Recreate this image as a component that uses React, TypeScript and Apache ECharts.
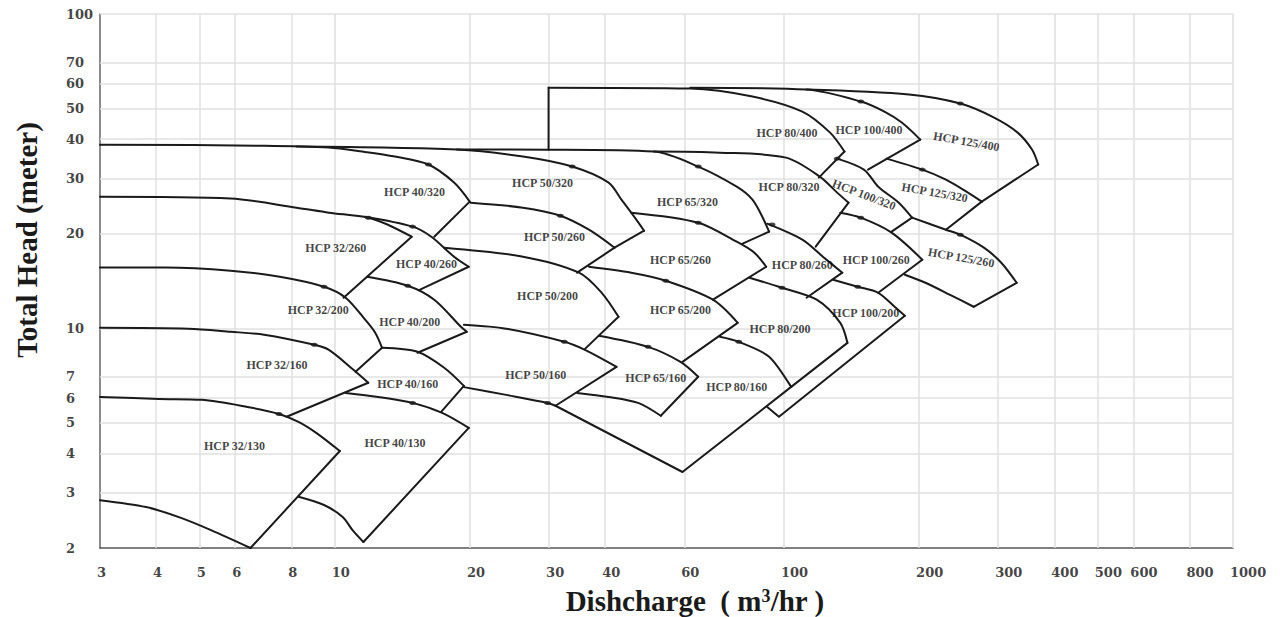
import React, { useEffect, useRef } from "react";
import * as echarts from "echarts";

type Pt = [number, number];
interface Pump {
  name: string;
  top: Pt[];
  edge: Pt[];
  bottom?: Pt[];
  extra?: Pt[];
  bep?: Pt[];
  label: Pt;
  rotate?: number;
}

// Axis tick values (gridlines + labels)
const xTicks = [3, 4, 5, 6, 8, 10, 20, 30, 40, 60, 100, 200, 300, 400, 500, 600, 800, 1000];
const yTicks = [2, 3, 4, 5, 6, 7, 10, 20, 30, 40, 50, 60, 70, 100];

// Pump fields: top = max impeller curve (ends at tip), edge = line from tip, bottom = min curve
const hcp32_130: Pump = {
  name: "HCP 32/130",
  top: [[3, 6.05], [4.06, 5.96], [5.05, 5.92], [6.39, 5.62], [7.51, 5.34], [8.3, 5.04], [9.09, 4.65], [10.26, 4.07]],
  edge: [[6.49, 2]],
  bottom: [[3, 2.84], [3.8, 2.7], [4.56, 2.49], [5.3, 2.28], [6.49, 2]],
  bep: [[7.51, 5.34]],
  label: [5.98, 4.23],
};
const hcp32_160: Pump = {
  name: "HCP 32/160",
  top: [[3, 10.04], [4.72, 9.97], [5.86, 9.75], [6.96, 9.54], [9.0, 8.86], [9.7, 8.54], [11.0, 7.38], [11.87, 6.71]],
  edge: [[7.81, 5.23]],
  bep: [[9.0, 8.86]],
  label: [7.43, 7.65],
};
const hcp32_200: Pump = {
  name: "HCP 32/200",
  top: [[3, 15.6], [4.2, 15.6], [5.86, 15.25], [7.54, 14.59], [9.46, 13.56], [10.57, 12.51], [11.69, 10.64], [12.3, 9.68], [12.74, 8.67]],
  edge: [[11.12, 7.27]],
  bep: [[9.46, 13.56]],
  label: [9.18, 11.46],
};
const hcp32_260: Pump = {
  name: "HCP 32/260",
  top: [[3, 26.2], [5.86, 25.86], [8.22, 24.2], [9.7, 23.33], [11.87, 22.49], [13.13, 21.36], [14.83, 19.56]],
  edge: [[10.46, 12.51]],
  bep: [[11.87, 22.49]],
  label: [10.05, 18.05],
};
const hcp40_130: Pump = {
  name: "HCP 40/130",
  top: [[10.57, 6.23], [12.49, 6.05], [14.9, 5.79], [17.34, 5.38], [19.87, 4.82]],
  edge: [[11.58, 2.09]],
  bottom: [[8.3, 2.91], [9.46, 2.74], [10.41, 2.51], [10.95, 2.28], [11.58, 2.09]],
  bep: [[14.9, 5.79]],
  label: [13.61, 4.32],
};
const hcp40_160: Pump = {
  name: "HCP 40/160",
  top: [[12.74, 8.67], [15.28, 8.42], [17.52, 7.49], [19.38, 6.56]],
  edge: [[17.25, 5.42]],
  label: [14.53, 6.66],
};
const hcp40_200: Pump = {
  name: "HCP 40/200",
  top: [[11.81, 14.59], [14.53, 13.66], [16.65, 12.33], [19.09, 10.11], [19.67, 9.75]],
  edge: [[15.28, 8.36]],
  bep: [[14.53, 13.66]],
  label: [14.68, 10.49],
};
const hcp40_260: Pump = {
  name: "HCP 40/260",
  top: [[11.69, 22.65], [14.9, 21.06], [16.4, 19.56], [18.43, 16.9], [19.87, 15.7]],
  edge: [[15.44, 13.26]],
  bep: [[14.9, 21.06]],
  label: [16.0, 16.05],
};
const hcp40_320: Pump = {
  name: "HCP 40/320",
  top: [[3, 38.4], [6.96, 38.1], [9.7, 37.6], [11.52, 36.5], [13.61, 35.2], [16.16, 33.2], [18.43, 29.08], [19.97, 25.3]],
  edge: [[16.65, 19.56]],
  bep: [[16.16, 33.2]],
  label: [15.05, 27.2],
};
const hcp50_160: Pump = {
  name: "HCP 50/160",
  top: [[19.38, 10.26], [24.07, 9.97], [32.43, 9.06], [36.06, 8.54], [42.39, 7.54]],
  edge: [[31.0, 5.67]],
  bottom: [[19.38, 6.5], [24.07, 6.14], [29.77, 5.79], [31.0, 5.67]],
  bep: [[32.43, 9.06], [29.77, 5.79]],
  label: [28.02, 7.11],
};
const hcp50_200: Pump = {
  name: "HCP 50/200",
  top: [[17.52, 18.05], [26.24, 16.9], [34.98, 15.03], [39.29, 12.97], [42.82, 10.88]],
  edge: [[36.06, 8.6]],
  label: [29.77, 12.69],
};
const hcp50_260: Pump = {
  name: "HCP 50/260",
  top: [[20.07, 25.1], [26.24, 24.2], [31.78, 22.81], [36.8, 20.59], [41.96, 18.05]],
  edge: [[34.63, 15.03]],
  bep: [[31.78, 22.81]],
  label: [30.83, 19.56],
};
const hcp50_320: Pump = {
  name: "HCP 50/320",
  top: [[8.22, 37.86], [18.7, 37.04], [26.24, 35.2], [33.77, 32.7], [40.7, 29.08], [43.47, 25.67], [46.4, 22.65], [48.83, 20.44]],
  edge: [[41.96, 18.05]],
  bep: [[33.77, 32.7]],
  label: [29.02, 29.08],
};
const hcp65_160: Pump = {
  name: "HCP 65/160",
  top: [[38.7, 9.47], [49.83, 8.73], [58.85, 7.82], [64.45, 7.01]],
  edge: [[53.19, 5.27]],
  bottom: [[34.63, 6.23], [40.7, 6.05], [47.36, 5.79], [53.19, 5.27]],
  bep: [[49.83, 8.73]],
  label: [51.86, 6.96],
};
const hcp65_200: Pump = {
  name: "HCP 65/200",
  top: [[36.8, 15.7], [45.72, 15.03], [54.56, 14.17], [69.5, 12.33], [78.9, 10.41]],
  edge: [[59.45, 7.82]],
  bep: [[54.56, 14.17]],
  label: [58.85, 11.46],
};
const hcp65_260: Pump = {
  name: "HCP 65/260",
  top: [[45.72, 23.33], [64.45, 21.68], [78.5, 18.86], [85.95, 17.4], [91.3, 15.7]],
  edge: [[69.5, 12.33]],
  bep: [[64.45, 21.68]],
  label: [58.85, 16.53],
};
const hcp65_320: Pump = {
  name: "HCP 65/320",
  top: [[18.7, 37.04], [29.92, 37.0], [51.33, 36.5], [64.45, 32.7], [78.5, 28.22], [85.1, 25.67], [89.5, 22.65], [92.7, 20.3]],
  edge: [[80.9, 18.59]],
  bep: [[64.45, 32.7]],
  label: [60.97, 25.3],
};
const hcp80_160: Pump = {
  name: "HCP 80/160",
  top: [[72.0, 9.4], [79.3, 9.06], [92.7, 8.12], [103.8, 6.51]],
  edge: [[59.45, 3.49], [31.0, 5.67]],
  bep: [[79.3, 9.06]],
  label: [78.5, 6.51],
};
const hcp80_200: Pump = {
  name: "HCP 80/200",
  top: [[83.8, 14.49], [99.0, 13.46], [118.3, 12.33], [133.5, 10.41], [138.5, 8.99]],
  edge: [[103.8, 6.51]],
  bep: [[99.0, 13.46]],
  label: [98.0, 9.97],
};
const hcp80_260: Pump = {
  name: "HCP 80/260",
  top: [[91.8, 21.52], [109.9, 19.14], [122.1, 16.9], [134.9, 15.03]],
  edge: [[112.3, 12.51]],
  bep: [[94.1, 21.4]],
  label: [109.9, 15.93],
};
const hcp80_320: Pump = {
  name: "HCP 80/320",
  top: [[51.33, 36.5], [72.0, 36.22], [101.1, 34.92], [120.2, 30.38], [131.4, 27.02], [139.3, 25.1]],
  edge: [[117.7, 18.18]],
  label: [102.7, 28.22],
};
const hcp80_400: Pump = {
  name: "HCP 80/400",
  top: [[29.92, 58.3], [61.9, 57.9], [85.1, 54.6], [109.9, 48.93], [126.7, 41.94], [136.4, 36.5]],
  edge: [[119.6, 30.16]],
  extra: [[29.92, 37.0], [29.92, 58.3]],
  label: [101.6, 41.94],
};
const hcp100_200: Pump = {
  name: "HCP 100/200",
  top: [[128.7, 14.27], [146.0, 13.56], [162.2, 12.97], [176.4, 11.71], [185.9, 10.96]],
  edge: [[97.5, 5.23], [91.8, 5.62]],
  bep: [[146.0, 13.56]],
  label: [152.2, 11.21],
};
const hcp100_260: Pump = {
  name: "HCP 100/260",
  top: [[133.5, 23.33], [148.3, 22.49], [173.7, 20.15], [203.3, 16.53]],
  edge: [[162.2, 12.97]],
  bep: [[148.3, 22.49]],
  label: [160.5, 16.53],
};
const hcp100_320: Pump = {
  name: "HCP 100/320",
  top: [[131.4, 34.66], [150.7, 31.98], [162.2, 28.22], [180.2, 25.1], [192.9, 22.49]],
  edge: [[173.7, 20.3]],
  bep: [[131.4, 34.66]],
  label: [150.7, 26.62],
  rotate: -21,
};
const hcp100_400: Pump = {
  name: "HCP 100/400",
  top: [[61.9, 58.3], [112.3, 57.48], [148.3, 52.66], [167.4, 48.93], [183.0, 45.14], [201.2, 39.85]],
  edge: [[153.9, 31.98]],
  bep: [[148.3, 52.66]],
  label: [154.7, 42.88],
};
const hcp125_260: Pump = {
  name: "HCP 125/260",
  top: [[192.9, 22.49], [229.5, 20.59], [247.0, 19.85], [278.8, 18.05], [304.8, 16.17], [329.8, 13.96]],
  edge: [[264.5, 11.71]],
  bottom: [[185.9, 14.81], [206.6, 13.96], [234.4, 12.78], [264.5, 11.71]],
  bep: [[247.0, 19.85]],
  label: [248.3, 16.78],
  rotate: -10,
};
const hcp125_320: Pump = {
  name: "HCP 125/320",
  top: [[169.2, 34.66], [203.3, 31.98], [229.5, 29.72], [254.9, 27.22], [275.8, 25.3]],
  edge: [[229.5, 20.59]],
  bep: [[203.3, 31.98]],
  label: [216.6, 27.02],
  rotate: -10,
};
const hcp125_400: Pump = {
  name: "HCP 125/400",
  top: [[112.3, 57.48], [189.9, 55.43], [247.0, 51.88], [293.8, 46.82], [331.5, 41.94], [356.8, 37.04], [368.3, 33.2]],
  edge: [[275.8, 25.3]],
  bep: [[247.0, 51.88]],
  label: [254.9, 39.26],
  rotate: -10,
};

const pumps: Pump[] = [
  hcp32_130, hcp32_160, hcp32_200, hcp32_260,
  hcp40_130, hcp40_160, hcp40_200, hcp40_260, hcp40_320,
  hcp50_160, hcp50_200, hcp50_260, hcp50_320,
  hcp65_160, hcp65_200, hcp65_260, hcp65_320,
  hcp80_160, hcp80_200, hcp80_260, hcp80_320, hcp80_400,
  hcp100_200, hcp100_260, hcp100_320, hcp100_400,
  hcp125_260, hcp125_320, hcp125_400,
];

const serif = '"Liberation Serif", "Times New Roman", serif';
const tickFont = '"DejaVu Serif", serif';
const ink = "#1a1a1a";
const gridColor = "#e1e1e1";

function buildOption(): any {
  const curveLine = { color: ink, width: 2, cap: "round", join: "round" };
  const line = (data: Pt[], smooth: boolean) => ({
    type: "line",
    data,
    smooth: smooth ? 0.3 : false,
    showSymbol: false,
    symbol: "none",
    lineStyle: curveLine,
    silent: true,
    clip: false,
    z: 3,
  });

  const series: any[] = [];

  // tick labels + gridlines
  series.push({
    type: "scatter",
    name: "yTicks",
    data: yTicks.map((v) => [3, v]),
    symbolSize: 1,
    itemStyle: { color: "transparent" },
    clip: false,
    silent: true,
    z: 2,
    label: {
      show: true,
      position: "inside",
      align: "left",
      verticalAlign: "middle",
      offset: [-34, 0],
      formatter: (p: any) => String(p.value[1]),
      fontFamily: tickFont,
      fontWeight: "bold",
      fontSize: 13,
      color: "#111",
    },
    markLine: {
      silent: true,
      z: 1,
      symbol: ["none", "none"],
      label: { show: false },
      emphasis: { disabled: true },
      lineStyle: { color: gridColor, width: 1.5, type: "solid" },
      data: yTicks.filter((v) => v > 2).map((v) => ({ yAxis: v })),
    },
  });
  series.push({
    type: "scatter",
    name: "xTicks",
    data: xTicks.map((v) => [v, 2]),
    symbolSize: 1,
    itemStyle: { color: "transparent" },
    clip: false,
    silent: true,
    z: 2,
    label: {
      show: true,
      position: "inside",
      align: "left",
      verticalAlign: "middle",
      offset: [-3, 24],
      formatter: (p: any) => String(p.value[0]),
      fontFamily: tickFont,
      fontWeight: "bold",
      fontSize: 13,
      color: "#111",
    },
    markLine: {
      silent: true,
      z: 1,
      symbol: ["none", "none"],
      label: { show: false },
      emphasis: { disabled: true },
      lineStyle: { color: gridColor, width: 1.5, type: "solid" },
      data: xTicks.filter((v) => v > 3).map((v) => ({ xAxis: v })),
    },
  });

  pumps.forEach((p) => {
    series.push(line(p.top, true));
    series.push(line([p.top[p.top.length - 1], ...p.edge], false));
    if (p.bottom) series.push(line(p.bottom, true));
    if (p.extra) series.push(line(p.extra, false));
  });

  // BEP markers
  const beps: Pt[] = [];
  pumps.forEach((p) => (p.bep || []).forEach((b) => beps.push(b)));
  series.push({
    type: "scatter",
    data: beps,
    symbol: "circle",
    symbolSize: [7, 4],
    itemStyle: { color: ink },
    silent: true,
    clip: false,
    z: 4,
  });

  // model labels
  series.push({
    type: "scatter",
    data: pumps.map((p) => ({
      name: p.name,
      value: p.label,
      label: p.rotate ? { rotate: p.rotate } : undefined,
    })),
    symbolSize: 1,
    itemStyle: { color: "transparent" },
    silent: true,
    clip: false,
    z: 5,
    label: {
      show: true,
      position: "inside",
      formatter: "{b}",
      fontFamily: serif,
      fontWeight: "bold",
      fontSize: 12,
      color: "#111",
    },
  });

  return {
    animation: false,
    backgroundColor: "#ffffff",
    grid: { left: 100, right: 54, top: 14, bottom: 69, containLabel: false },
    xAxis: {
      type: "log",
      logBase: 10,
      min: 3,
      max: 1000,
      axisLine: { show: true, onZero: false, lineStyle: { color: "#555", width: 1.5 } },
      axisTick: { show: false },
      axisLabel: { show: false },
      splitLine: { show: false },
    },
    yAxis: {
      type: "log",
      logBase: 10,
      min: 2,
      max: 100,
      axisLine: { show: true, onZero: false, lineStyle: { color: "#666", width: 1.5 } },
      axisTick: { show: false },
      axisLabel: { show: false },
      splitLine: { show: false },
    },
    graphic: [
      {
        type: "text",
        x: 27,
        y: 240,
        rotation: Math.PI / 2,
        style: {
          text: "Total Head (meter)",
          fontFamily: serif,
          fontWeight: "bold",
          fontSize: 29,
          fill: ink,
          align: "center",
          verticalAlign: "middle",
        },
      },
      {
        type: "text",
        x: 695,
        y: 601,
        style: {
          text: "Dishcharge  ( m{sup|3}/hr )",
          fontFamily: serif,
          fontWeight: "bold",
          fontSize: 29,
          fill: ink,
          align: "center",
          verticalAlign: "middle",
          rich: {
            sup: {
              fontFamily: serif,
              fontWeight: "bold",
              fontSize: 18,
              fill: ink,
              verticalAlign: "top",
            },
          },
        },
      },
    ],
    series,
  };
}

export default function App() {
  const ref = useRef<HTMLDivElement>(null);
  useEffect(() => {
    if (!ref.current) return;
    const chart = echarts.init(ref.current, null, { renderer: "svg" });
    chart.setOption(buildOption());
    return () => chart.dispose();
  }, []);
  return (
    <div
      ref={ref}
      style={{ position: "absolute", left: 0, top: 0, width: 1287, height: 617, background: "#fff" }}
    />
  );
}
